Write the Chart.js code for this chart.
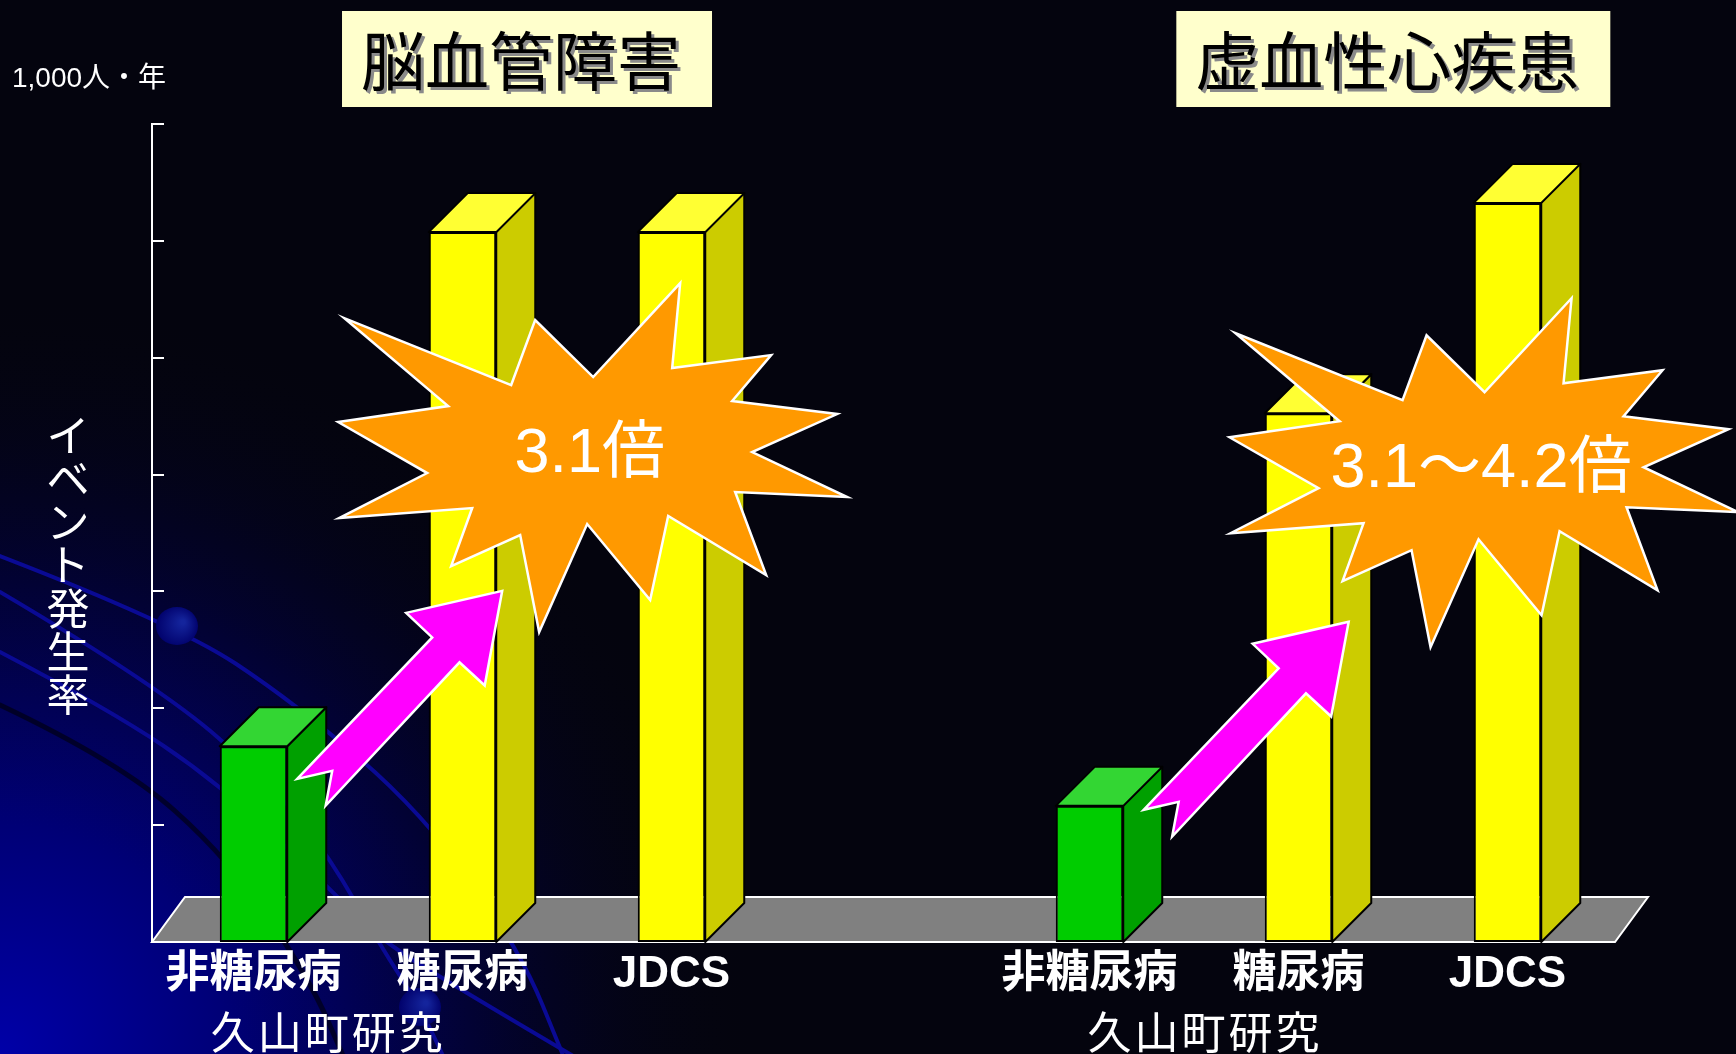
<!DOCTYPE html>
<html lang="ja">
<head>
<meta charset="utf-8">
<title>脳血管障害・虚血性心疾患 イベント発生率</title>
<script src="https://cdn.jsdelivr.net/npm/chart.js@4.4.1/dist/chart.umd.min.js"></script>
<style>
  html, body { margin: 0; padding: 0; background: #04040e; overflow: hidden; }
  #wrap { position: relative; width: 1736px; height: 1054px; }
</style>
</head>
<body>
<div id="wrap"><canvas id="chart"></canvas></div>
<script>
// イベント発生率（1,000人・年あたり）
const categories = ['非糖尿病', '糖尿病', 'JDCS', '', '非糖尿病', '糖尿病', 'JDCS'];
const incidence  = [3.35, 12.15, 12.15, null, 2.33, 9.05, 12.65];
const yTicks     = [0, 2, 4, 6, 8, 10, 12, 14];
const groupTitles = ['脳血管障害', '虚血性心疾患'];
const studyLabels = ['久山町研究', '久山町研究'];
const ratioLabels = ['3.1倍', '3.1～4.2倍'];
const unitLabel   = '1,000人・年';
const axisTitle   = 'イベント発生率';

// where the annotations sit, in scale units (category index / rate)
const spots = {
  titles: [1.28, 5.425],
  study:  [0.35, 4.545],
  bursts: [{ x: 1.63, y: 8.30 }, { x: 5.895, y: 8.04 }],
  arrows: [{ x: 1.19, y: 6.01 }, { x: 5.24, y: 5.48 }]
};

const LATIN = '"Liberation Sans", "Noto Sans CJK JP", sans-serif';
const CJK = '"Noto Sans CJK JP", sans-serif';

const palette = {
  green:  { front: '#00cc00', side: '#00a000', top: '#33d633' },
  yellow: { front: '#ffff00', side: '#cccc00', top: '#ffff33' }
};
const colorOf = i => palette[categories[i] === '非糖尿病' ? 'green' : 'yellow'];

// explosion outline, pixel offsets from its centre
const burstShape = [[-250,-139],[-83,-72],[-59,-137],[-1,-80],[86,-174],[78,-89],[177,-102],[138,-56],
  [243,-43],[158,-5],[253,40],[141,35],[172,118],[74,59],[56,143],[-7,67],[-55,175],[-74,78],
  [-143,109],[-122,51],[-255,61],[-167,16],[-256,-35],[-146,-51]];
// block arrow outline, pixel offsets from its tip
const arrowShape = [[0,0],[-96,22],[-70,46.6],[-205,188],[-170,180],[-176.5,214.7],[-42.7,71.5],[-17.5,94.7]];

const DEPTH = 39;          // bar depth (px, 45°)
const FLOOR = { dx: 33, dy: 45 };
const AXIS_INSET = 3;      // value axis sits just right of the plot edge

function poly(ctx, pts, ox, oy) {
  ctx.beginPath();
  pts.forEach((p, i) => i ? ctx.lineTo(ox + p[0], oy + p[1]) : ctx.moveTo(ox + p[0], oy + p[1]));
  ctx.closePath();
}

function smoothLine(ctx, pts) {
  ctx.beginPath();
  ctx.moveTo(pts[0][0], pts[0][1]);
  for (let i = 1; i < pts.length - 1; i++) {
    const mx = (pts[i][0] + pts[i + 1][0]) / 2, my = (pts[i][1] + pts[i + 1][1]) / 2;
    ctx.quadraticCurveTo(pts[i][0], pts[i][1], mx, my);
  }
  const last = pts[pts.length - 1];
  ctx.lineTo(last[0], last[1]);
  ctx.stroke();
}

const slideDecor = {
  id: 'slideDecor',
  beforeDraw(chart) {
    const { ctx, width, height } = chart;
    ctx.save();
    ctx.fillStyle = '#04040e';
    ctx.fillRect(0, 0, width, height);
    // blue glow in the lower-left corner
    const g = ctx.createRadialGradient(0, height, 0, 0, height, 760);
    g.addColorStop(0, 'rgb(0,0,168)');
    g.addColorStop(0.3, 'rgb(0,0,118)');
    g.addColorStop(0.62, 'rgb(2,2,52)');
    g.addColorStop(1, 'rgba(4,4,14,0)');
    ctx.fillStyle = g;
    ctx.fillRect(0, 0, width, height);
    // sweeping background lines
    ctx.lineCap = 'round';
    ctx.strokeStyle = 'rgba(0,0,0,0.55)';
    ctx.lineWidth = 5;
    smoothLine(ctx, [[0,705],[120,762],[230,860],[310,980],[345,1060]]);
    ctx.strokeStyle = '#0a0a94';
    ctx.lineWidth = 4;
    smoothLine(ctx, [[0,556],[176,624],[295,703],[423,813],[520,950],[565,1060]]);
    smoothLine(ctx, [[0,592],[161,687],[277,790],[330,858],[380,945],[420,1007],[445,1060]]);
    smoothLine(ctx, [[0,652],[107,708],[219,783],[330,889],[380,940],[470,995],[580,1060]]);
    [[177, 626], [420, 1007]].forEach(([cx, cy]) => {
      const rg = ctx.createRadialGradient(cx + 6, cy - 4, 2, cx, cy, 22);
      rg.addColorStop(0, '#14249c');
      rg.addColorStop(1, '#00006a');
      ctx.fillStyle = rg;
      ctx.beginPath();
      ctx.ellipse(cx, cy, 21, 19, 0, 0, Math.PI * 2);
      ctx.fill();
    });
    ctx.restore();
  },
  beforeDatasetsDraw(chart) {
    const { ctx, chartArea: { left, right, top, bottom } } = chart;
    const y = chart.scales.y;
    const ax = left + AXIS_INSET;
    ctx.save();
    // floor
    ctx.beginPath();
    ctx.moveTo(ax, bottom);
    ctx.lineTo(right + 3, bottom);
    ctx.lineTo(right + 3 + FLOOR.dx, bottom - FLOOR.dy);
    ctx.lineTo(ax + FLOOR.dx, bottom - FLOOR.dy);
    ctx.closePath();
    ctx.fillStyle = '#808080';
    ctx.fill();
    ctx.strokeStyle = '#ffffff';
    ctx.lineWidth = 2;
    ctx.stroke();
    // value axis with inward ticks
    ctx.beginPath();
    ctx.moveTo(ax, top - 1);
    ctx.lineTo(ax, bottom);
    yTicks.forEach(v => {
      if (v === 0) return;
      const py = Math.round(y.getPixelForValue(v));
      ctx.moveTo(ax, py);
      ctx.lineTo(ax + 12, py);
    });
    ctx.stroke();
    ctx.restore();
  },
  afterDatasetsDraw(chart) {
    const { ctx } = chart;
    const xs = chart.scales.x, ys = chart.scales.y;
    const meta = chart.getDatasetMeta(0);
    ctx.save();
    ctx.lineJoin = 'round';
    ctx.lineWidth = 2;
    ctx.strokeStyle = '#000';
    meta.data.forEach((bar, i) => {
      if (incidence[i] == null) return;
      const { x, y, base, width } = bar.getProps(['x', 'y', 'base', 'width'], true);
      const l = x - width / 2, r = x + width / 2, c = colorOf(i);
      poly(ctx, [[r, y], [r + DEPTH, y - DEPTH], [r + DEPTH, base - DEPTH], [r, base]], 0, 0);
      ctx.fillStyle = c.side; ctx.fill(); ctx.stroke();
      poly(ctx, [[l, y], [l + DEPTH, y - DEPTH], [r + DEPTH, y - DEPTH], [r, y]], 0, 0);
      ctx.fillStyle = c.top; ctx.fill(); ctx.stroke();
    });
    // ratio callouts
    ctx.lineJoin = 'miter';
    spots.bursts.forEach((s, i) => {
      const cx = xs.getPixelForValue(s.x), cy = ys.getPixelForValue(s.y);
      poly(ctx, burstShape, cx, cy);
      ctx.fillStyle = '#ff9900';
      ctx.fill();
      ctx.strokeStyle = '#ffffff';
      ctx.lineWidth = 2.5;
      ctx.stroke();
      ctx.fillStyle = '#ffffff';
      ctx.font = '63px ' + LATIN;
      ctx.textAlign = 'center';
      ctx.textBaseline = 'alphabetic';
      ctx.fillText(ratioLabels[i], cx - 4.5, cy + 15);
    });
    // rising arrows
    spots.arrows.forEach(s => {
      const tx = xs.getPixelForValue(s.x), ty = ys.getPixelForValue(s.y);
      poly(ctx, arrowShape, tx, ty);
      ctx.fillStyle = '#ff00ff';
      ctx.fill();
      ctx.strokeStyle = '#ffffff';
      ctx.lineWidth = 2.5;
      ctx.stroke();
    });
    ctx.restore();
  },
  afterDraw(chart) {
    const { ctx } = chart;
    const xs = chart.scales.x;
    ctx.save();
    ctx.textBaseline = 'alphabetic';
    // group titles in pale boxes
    ctx.font = '64px ' + CJK;
    groupTitles.forEach((t, i) => {
      const cx = xs.getPixelForValue(spots.titles[i]);
      const w = ctx.measureText(t).width;
      const x0 = cx - w / 2;
      ctx.fillStyle = '#ffffcc';
      ctx.fillRect(x0 - 19, 11, w + 50, 96);
      ctx.textAlign = 'left';
      ctx.fillStyle = '#8a8a8a';
      ctx.fillText(t, x0 + 3, 88);
      ctx.fillStyle = '#000000';
      ctx.fillText(t, x0, 85);
    });
    // unit
    ctx.fillStyle = '#ffffff';
    ctx.textAlign = 'left';
    ctx.font = '28px ' + LATIN;
    ctx.fillText(unitLabel, 12, 87);
    // vertical axis title
    ctx.font = '43px ' + CJK;
    ctx.textAlign = 'center';
    [...axisTitle].forEach((ch, k) => {
      ctx.fillText(ch, 68, 414.5 + 43.2 * (k + 1) - 6);
    });
    // study name under the first two columns of each group
    ctx.font = '44px ' + CJK;
    if ('letterSpacing' in ctx) ctx.letterSpacing = '3px';
    studyLabels.forEach((t, i) => {
      ctx.fillText(t, xs.getPixelForValue(spots.study[i]) + 1.5, 1049);
    });
    ctx.restore();
  }
};

new Chart(document.getElementById('chart'), {
  type: 'bar',
  data: {
    labels: categories,
    datasets: [{
      data: incidence,
      backgroundColor: categories.map((_, i) => colorOf(i).front),
      borderColor: '#000000',
      borderWidth: 2,
      borderSkipped: false,
      barPercentage: 0.323,
      categoryPercentage: 1
    }]
  },
  options: {
    responsive: true,
    maintainAspectRatio: false,
    animation: false,
    events: [],
    layout: { padding: { left: 149, right: 124, top: 124, bottom: 0 } },
    plugins: {
      legend: { display: false },
      tooltip: { enabled: false },
      title: { display: false }
    },
    scales: {
      x: {
        offset: true,
        grid: { display: false, drawTicks: false },
        border: { display: false },
        ticks: {
          color: '#ffffff',
          font: { family: LATIN, size: 44, weight: 'bold' },
          padding: 6,
          maxRotation: 0,
          autoSkip: false
        },
        afterFit(scale) { scale.height = 112; }
      },
      y: {
        display: false,
        min: yTicks[0],
        max: yTicks[yTicks.length - 1],
        ticks: { stepSize: 2 }
      }
    }
  },
  plugins: [slideDecor]
});
</script>
</body>
</html>
